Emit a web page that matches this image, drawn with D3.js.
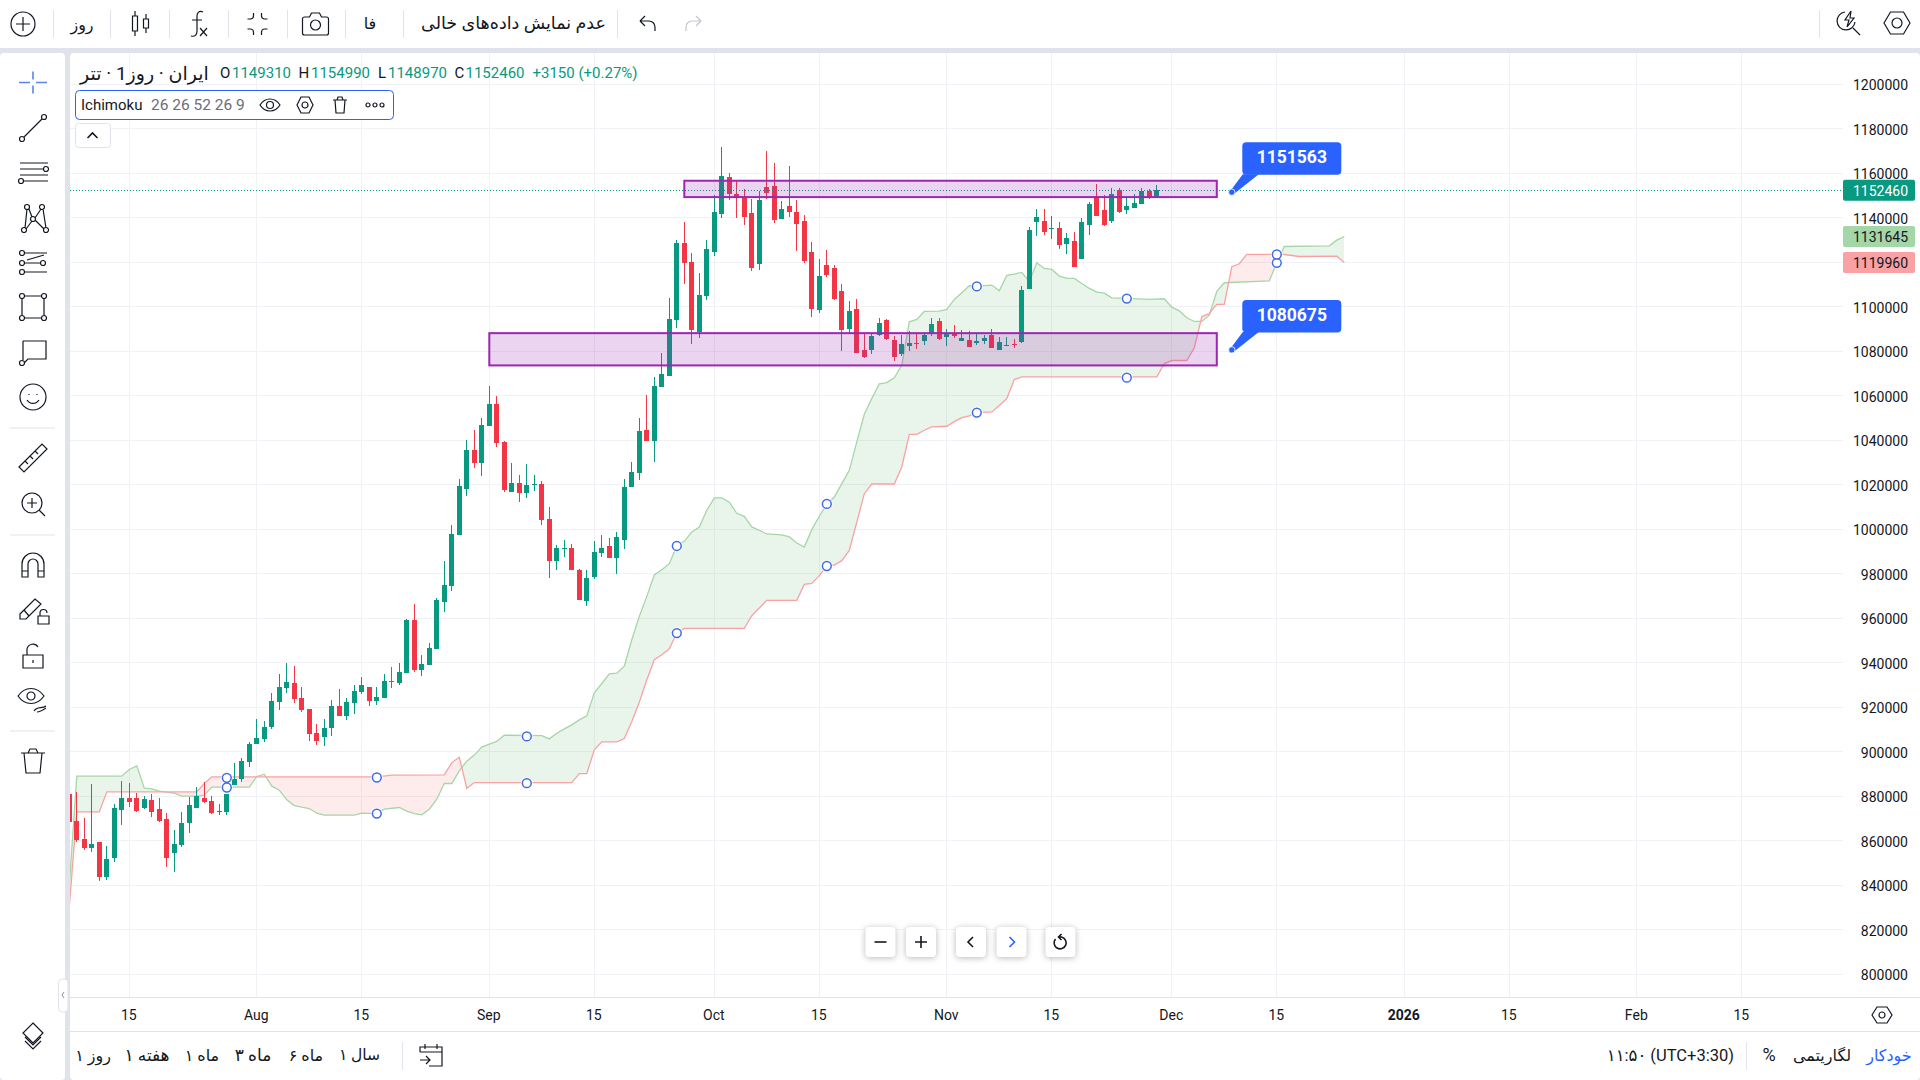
<!DOCTYPE html>
<html>
<head>
<meta charset="utf-8">
<script src="https://cdn.jsdelivr.net/npm/d3@7/dist/d3.min.js"></script>
<style>
  html, body { margin: 0; padding: 0; background: #fff; overflow: hidden; }
  text { font-family: Roboto, "DejaVu Sans", sans-serif; fill: #131722; }
  .btn { filter: drop-shadow(0 1px 3px rgba(0,0,0,.28)); }
</style>
</head>
<body>
<script>
// daily candles, first one is 2025-07-07
let firstCandle = "2025-07-07";
let opens = [
    881000,868850,860750,856700,859400,843650,852200,873800,879200,879200,874700,878300,874250,869750,854450,858050,867950,874700,879200,877850,872900,872900,885050,887750,895400,
    903500,905750,911050,922300,928600,930850,924100,919150,908450,906650,910700,920600,916100,921850,926800,929050,922750,924100,931750,930850,935350,959200,936700,938950,946150,967300,974500,997450,1018150,1035700,1029850,
    1046500,1056400,1039300,1016800,1020850,1016350,1019800,1020400,1004650,985750,991150,991600,981700,967750,978550,989350,992500,987100,995200,1019050,1025350,1044700,1039750,1063850,1068800,1094000,1128650,1120100,1088600,1104800,
    1124600,1141700,1158350,1150700,1148900,1142150,1119200,1153850,1154300,1139450,1145300,1142600,1138550,1124600,1098500,1118750,1117400,1107050,1089950,1098950,1080500,1080500,1087250,1094000,1085000,1078700,1082300,1083650,1084550,1087700,1093550,
    1086350,1088150,1084550,1085000,1083650,1084550,1087250,1080500,1082750,1083200,1084100,1107950,1138100,1138550,1135100,1135400,1128200,1129550,1121450,1136750,1148900,1143500,1138550,1152500,1143500,1144400,1146200,1152050,1149310
];
let highs = [
    881000,881900,870200,885500,859400,857600,876500,886850,885950,881450,880100,881000,879200,872450,864800,872900,879650,884150,886400,880100,876500,881000,894950,897200,904400,
    914750,913850,926350,934900,939850,938500,929050,919150,912500,914750,923200,928150,924100,929950,933550,929050,929050,934900,938050,939950,959650,966400,943450,948850,969100,985750,1001950,1022650,1040200,1044700,1050100,
    1064500,1060000,1039750,1029850,1024450,1029400,1024450,1021750,1010050,992950,995200,993400,982150,981700,994750,997450,996100,998800,1022650,1030300,1050100,1060450,1068550,1079150,1103900,1130000,1138100,1124150,1115150,1130000,
    1150250,1171850,1160150,1157000,1152950,1148450,1152050,1170050,1164650,1147550,1163300,1148000,1141250,1129100,1121450,1125500,1118750,1110200,1102550,1103450,1088150,1087700,1094900,1094450,1086800,1087250,1089050,1088150,1088150,1094900,1094900,
    1089950,1091750,1089500,1089050,1087700,1087250,1089950,1086350,1086350,1085450,1109300,1135850,1143950,1143950,1140800,1138100,1133150,1133600,1139900,1147100,1155200,1150250,1153400,1153400,1148900,1150700,1153400,1152950,1154990
];
let lows = [
    868400,859400,855800,854900,841850,842300,850400,867050,875150,872900,874250,870650,868400,848150,845900,857150,863450,874700,876950,872000,871550,871550,885050,886400,893150,
    903500,904400,910150,918700,926350,921850,917800,904850,903050,902600,907100,916100,914300,916900,925900,920500,920950,924100,928600,929950,935350,935800,934000,938950,946150,962800,972250,997450,1015000,1027600,1024000,
    1046500,1037050,1016800,1016800,1012300,1014100,1017250,1001950,978100,981700,987550,981700,968200,965500,977650,987550,987100,979900,991150,1019050,1022200,1039750,1030300,1063850,1068800,1090400,1110200,1083200,1085900,1103000,
    1122800,1139900,1148000,1139900,1136750,1116050,1116500,1148450,1137650,1139450,1140350,1125050,1119650,1095350,1097150,1113350,1103000,1080050,1087700,1079150,1076900,1078700,1086800,1085000,1075550,1077800,1080050,1080950,1082750,1086800,1085000,
    1082300,1085900,1084550,1081850,1082750,1083200,1081400,1080500,1082750,1081400,1083650,1107950,1131800,1132250,1130450,1125950,1123700,1117850,1121450,1132250,1140800,1136300,1137650,1142150,1141700,1144400,1146200,1148450,1148970
];
let closes = [
    868400,860300,856700,858500,843650,851750,874700,879200,877400,873350,878750,872900,868850,852200,858500,867950,876050,880100,877400,872450,873350,881000,887750,895850,903500,
    906200,911150,922750,929050,931300,923650,918700,907900,904850,910700,920600,916100,922400,927250,929950,922750,924550,931750,931300,935800,959200,936700,939400,946600,968200,974950,997900,1019500,1035700,1029850,1046950,
    1056400,1038850,1017700,1020850,1016350,1019950,1020400,1004200,985750,991600,991600,981700,968200,978100,989800,991600,987100,996550,1019050,1025800,1044250,1039750,1064500,1069700,1094450,1128650,1119650,1089500,1105250,1125950,
    1142600,1158800,1150700,1148900,1140350,1117400,1148000,1151150,1139000,1143950,1142600,1137200,1120550,1098950,1113800,1114250,1103450,1089500,1098050,1079150,1077350,1086800,1092650,1085450,1077350,1083200,1083650,1083350,1087250,1092200,1085450,
    1087700,1086800,1085900,1081850,1084550,1085900,1081400,1084100,1083050,1082900,1107500,1134500,1140350,1133600,1135400,1127750,1130900,1117850,1138100,1146200,1140800,1136750,1150700,1142600,1145300,1146650,1152050,1148900,1152460
];

// ichimoku cloud, turning points of both spans
let spanA = [
    ["07-07",840000],["07-08",889100],["07-14",889100],["07-15",892100],["07-16",893750],["07-17",883700],["07-18",883400],["07-19",882350],["07-20",881900],["07-21",881450],["07-22",880100],["07-24",880100],["07-25",880550],["07-26",884150],["07-31",884150],
    ["08-01",888950],["08-02",890000],["08-03",884600],["08-04",882800],["08-05",878450],["08-06",875900],["08-07",875150],["08-08",874550],["08-09",872450],["08-10",871550],["08-14",871550],["08-15",872450],["08-17",872300],["08-18",874250],["08-20",875000],["08-21",873350],["08-22",872300],["08-23",871700],["08-24",874250],["08-25",878750],["08-26",885800],["08-27",885800],["08-28",891500],["08-29",895850],["08-30",898550],["08-31",902150],
    ["09-01",903500],["09-02",904700],["09-03",907500],["09-08",907350],["09-09",905850],["09-10",908400],["09-11",910350],["09-12",912150],["09-13",914400],["09-14",916200],["09-15",926550],["09-16",930750],["09-17",935100],["09-18",935400],["09-19",938550],["09-20",950400],["09-21",960900],["09-22",969900],["09-23",979500],["09-24",981900],["09-25",984600],["09-26",992550],["09-27",994650],["09-28",998850],["09-29",1001100],["09-30",1008600],
    ["10-01",1014150],["10-02",1014150],["10-03",1012200],["10-04",1007250],["10-05",1005900],["10-06",1001100],["10-07",999600],["10-08",997950],["10-10",997500],["10-11",996600],["10-12",993900],["10-13",992100],["10-14",999900],["10-15",1005900],["10-16",1011450],["10-17",1014550],["10-18",1020550],["10-19",1026550],["10-20",1039300],["10-21",1051750],["10-22",1058800],["10-23",1065400],["10-24",1066000],["10-25",1068100],["10-26",1073800],["10-27",1093300],["10-28",1094350],["10-29",1097950],["10-31",1098100],
    ["11-01",1098850],["11-02",1103350],["11-03",1106350],["11-04",1109500],["11-05",1109350],["11-07",1109800],["11-08",1107250],["11-09",1114150],["11-10",1114750],["11-11",1115500],["11-12",1111300],["11-13",1119850],["11-14",1117300],["11-15",1116850],["11-16",1113850],["11-17",1112800],["11-18",1112800],["11-19",1110550],["11-20",1108300],["11-21",1106650],["11-22",1106200],["11-23",1104100],["11-25",1103800],["11-28",1103350],["11-30",1103650],
    ["12-01",1099900],["12-02",1098250],["12-03",1095100],["12-04",1093450],["12-05",1093450],["12-06",1096300],["12-07",1106950],["12-08",1110850],["12-14",1111700],["12-15",1119800],["12-16",1127150],["12-22",1127450],["12-23",1130000],["12-24",1131645]
];
let spanB = [
    ["07-07",830300],["07-08",873050],["07-11",873050],["07-12",882050],["07-24",882050],["07-25",885800],["07-26",888800],
    ["08-17",888800],["08-19",889550],["08-26",889650],["08-27",895200],["08-28",897600],["08-29",883650],["08-30",886200],
    ["09-12",886200],["09-13",890250],["09-14",890250],["09-15",900900],["09-16",904500],["09-18",904500],["09-19",906000],["09-20",913650],["09-21",922350],["09-22",932400],["09-23",941400],["09-24",943650],["09-25",946350],["09-26",953400],["09-27",955500],
    ["10-05",955500],["10-06",961200],["10-07",964650],["10-08",968100],["10-12",968100],["10-13",975300],["10-14",975750],["10-15",979200],["10-16",983550],["10-17",984000],["10-18",985950],["10-19",990550],["10-20",1003300],["10-21",1016050],["10-22",1020400],["10-25",1020400],["10-26",1028050],["10-27",1042750],["10-28",1042750],["10-29",1044550],["10-30",1046050],
    ["11-01",1046350],["11-02",1048450],["11-03",1050250],["11-04",1051000],["11-05",1052500],["11-07",1052800],["11-08",1055650],["11-09",1058800],["11-10",1067350],["11-11",1068550],["11-29",1068550],["11-30",1074550],
    ["12-01",1075900],["12-03",1075900],["12-04",1081600],["12-05",1095550],["12-06",1097050],["12-07",1101100],["12-08",1101100],["12-09",1118050],["12-10",1119400],["12-11",1123600],["12-16",1123550],["12-18",1122650],["12-23",1122800],["12-24",1119960]
];
let handleDates = ["07-28","08-17","09-06","09-26","10-16","11-05","11-25","12-15"];
let handleA = [884000,872300,906950,992550,1011450,1109200,1103750,1119800];
let handleB = [888350,888500,885950,953400,983550,1052500,1068200,1123550];

let zones = [["09-27","12-07",1156700,1149350],["09-01","12-07",1088200,1073700]];
let callouts = [["12-09",1151563],["12-09",1080675]];
let lastClose = 1152460, lastA = 1131645, lastB = 1119960;

let priceTicks = [800000,820000,840000,860000,880000,900000,920000,940000,960000,980000,1000000,1020000,1040000,1060000,1080000,1100000,1120000,1140000,1160000,1180000,1200000];
let timeTicks = ["2025-07-15","2025-08-01","2025-08-15","2025-09-01","2025-09-15","2025-10-01","2025-10-15","2025-11-01","2025-11-15","2025-12-01","2025-12-15","2026-01-01","2026-01-15","2026-02-01","2026-02-15"];
let timeLabels = ["15","Aug","15","Sep","15","Oct","15","Nov","15","Dec","15","2026","15","Feb","15"];

let green = "#089981", red = "#f23645", blue = "#2962ff", band = "#e0e3eb", ink = "#131722";
let parse = d3.utcParse("%Y-%m-%d");
let day = s => parse("2025-" + s);

let svg = d3.select("body").append("svg").attr("width", 1920).attr("height", 1080).style("display", "block");

let x = d3.scaleUtc().domain([parse("2025-07-15"), parse("2025-12-01")]).range([129.3, 1171.8]);
let y = d3.scaleLinear().domain([800000, 1200000]).range([974.4, 84.4]);
let snap = v => Math.floor(v) + 0.5;

let candles = opens.map((o, i) => ({
    date: d3.utcDay.offset(parse(firstCandle), i), o: o, h: highs[i], l: lows[i], c: closes[i]
}));

// page frame
svg.append("rect").attr("width", 1920).attr("height", 1080).attr("fill", band);
svg.append("rect").attr("width", 1920).attr("height", 48).attr("fill", "#fff");
svg.append("rect").attr("x", 0).attr("y", 53).attr("width", 65).attr("height", 1027).attr("rx", 4).attr("fill", "#fff");
svg.append("rect").attr("x", 70).attr("y", 53).attr("width", 1850).attr("height", 1027).attr("rx", 4).attr("fill", "#fff");

let defs = svg.append("defs");
defs.append("clipPath").attr("id", "plot").append("rect").attr("x", 70).attr("y", 53).attr("width", 1773).attr("height", 944);

let plot = svg.append("g").attr("clip-path", "url(#plot)");

// grid
plot.selectAll(".hgrid").data(priceTicks).join("line")
    .attr("x1", 70).attr("x2", 1843)
    .attr("y1", d => snap(y(d))).attr("y2", d => snap(y(d)))
    .attr("stroke", "#f1f2f5").attr("stroke-width", 1);
plot.selectAll(".vgrid").data(timeTicks).join("line")
    .attr("y1", 53).attr("y2", 997)
    .attr("x1", d => snap(x(parse(d)))).attr("x2", d => snap(x(parse(d))))
    .attr("stroke", "#f1f2f5").attr("stroke-width", 1);

// cloud
let ptsA = spanA.map(d => [x(day(d[0])), y(d[1])]);
let ptsB = spanB.map(d => [x(day(d[0])), y(d[1])]);
let lineGen = d3.line();
let between = lineGen(ptsA.concat(ptsB.slice().reverse())) + "Z";
let x0 = ptsB[0][0], x1 = ptsB[ptsB.length - 1][0];
defs.append("clipPath").attr("id", "aboveB").append("path").attr("d", lineGen(ptsB.concat([[x1, 0], [x0, 0]])) + "Z");
defs.append("clipPath").attr("id", "belowB").append("path").attr("d", lineGen(ptsB.concat([[x1, 1080], [x0, 1080]])) + "Z");
plot.append("path").attr("d", between).attr("fill", "rgba(76,175,80,0.12)").attr("clip-path", "url(#aboveB)");
plot.append("path").attr("d", between).attr("fill", "rgba(242,54,69,0.1)").attr("clip-path", "url(#belowB)");
plot.append("path").attr("d", lineGen(ptsA)).attr("fill", "none").attr("stroke", "#a5d6a7").attr("stroke-width", 1.3);
plot.append("path").attr("d", lineGen(ptsB)).attr("fill", "none").attr("stroke", "#faa1a4").attr("stroke-width", 1.3);

// candles
let candle = plot.selectAll(".candle").data(candles).join("g").attr("class", "candle")
    .attr("fill", d => d.c >= d.o ? green : red).attr("shape-rendering", "crispEdges");
candle.append("rect")
    .attr("x", d => Math.floor(x(d.date))).attr("width", 1)
    .attr("y", d => y(d.h)).attr("height", d => y(d.l) - y(d.h));
candle.append("rect")
    .attr("x", d => Math.floor(x(d.date)) - 2).attr("width", 5)
    .attr("y", d => y(Math.max(d.o, d.c)))
    .attr("height", d => Math.max(1, Math.abs(y(d.o) - y(d.c))));

// last price line
plot.append("line").attr("x1", 70).attr("x2", 1843)
    .attr("y1", snap(y(lastClose))).attr("y2", snap(y(lastClose)))
    .attr("stroke", green).attr("stroke-dasharray", "1,2").attr("shape-rendering", "crispEdges");

// zones
plot.selectAll(".zone").data(zones).join("rect")
    .attr("x", d => x(day(d[0]))).attr("width", d => x(day(d[1])) - x(day(d[0])))
    .attr("y", d => y(d[2])).attr("height", d => y(d[3]) - y(d[2]))
    .attr("fill", "rgba(156,39,176,0.2)").attr("stroke", "#9c27b0").attr("stroke-width", 2);

// cloud handles
let handles = handleDates.flatMap((d, i) => [[d, handleA[i]], [d, handleB[i]]]);
plot.selectAll(".halo").data(handles).join("circle")
    .attr("cx", d => x(day(d[0]))).attr("cy", d => y(d[1])).attr("r", 6).attr("fill", "#fff").attr("opacity", 0.85);
plot.selectAll(".handle").data(handles).join("circle")
    .attr("cx", d => x(day(d[0]))).attr("cy", d => y(d[1])).attr("r", 4.4)
    .attr("fill", "#fff").attr("stroke", "#3f6be6").attr("stroke-width", 1.5);

// callouts
callouts.forEach(c => {
    let ax = x(day(c[0])), ay = y(c[1]);
    let g = plot.append("g").attr("transform", `translate(${ax},${ay})`);
    g.append("path").attr("d", "M-1,-2L11,-18L27,-18L3,1Z").attr("fill", blue);
    g.append("rect").attr("x", 10.5).attr("y", -50).attr("width", 99).attr("height", 32.5).attr("rx", 4).attr("fill", blue);
    g.append("circle").attr("r", 3.2).attr("fill", blue).attr("stroke", "#fff").attr("stroke-width", 0.8);
    g.append("text").attr("x", 60).attr("y", -35).attr("dy", "0.35em").attr("text-anchor", "middle")
        .attr("font-size", 17.5).attr("font-weight", 700).style("fill", "#fff").text(c[1]);
});

// axes
let priceAxis = svg.append("g").attr("transform", "translate(1908,1)")
    .call(d3.axisRight(y).tickValues(priceTicks).tickSize(0).tickPadding(0).tickFormat(d3.format("d")));
priceAxis.select(".domain").remove();
priceAxis.selectAll("text").attr("text-anchor", "end").attr("x", 0).attr("font-size", 14).attr("font-family", null);

let timeAxis = svg.append("g").attr("transform", "translate(-1,1015)")
    .call(d3.axisBottom(x).tickValues(timeTicks.map(parse)).tickSize(0).tickFormat((d, i) => timeLabels[i]));
timeAxis.select(".domain").remove();
timeAxis.selectAll("text").attr("y", 0).attr("dy", "0.35em").attr("font-size", 14).attr("font-family", null)
    .attr("font-weight", (d, i) => timeLabels[i] === "2026" ? 700 : 400);

svg.append("rect").attr("x", 70).attr("y", 997).attr("width", 1850).attr("height", 1).attr("fill", band);
svg.append("rect").attr("x", 70).attr("y", 1031).attr("width", 1850).attr("height", 1).attr("fill", band);

// price tags
let tags = [[lastClose, green, "#fff"], [lastA, "#a5d6a7", ink], [lastB, "#faa1a4", ink]];
tags.forEach(t => {
    svg.append("rect").attr("x", 1843).attr("y", y(t[0]) - 10.5).attr("width", 72).attr("height", 21).attr("rx", 2).attr("fill", t[1]);
    svg.append("text").attr("x", 1908).attr("y", y(t[0]) + 0.5).attr("dy", "0.35em").attr("text-anchor", "end")
        .attr("font-size", 14).style("fill", t[2]).text(t[0]);
});

// icons
function ring(cx, cy, r) {
    return `M${cx - r},${cy}a${r},${r} 0 1,0 ${2 * r},0a${r},${r} 0 1,0 ${-2 * r},0`;
}
function icon(px, py, d, color = ink, sw = 1.2) {
    svg.append("path").attr("transform", `translate(${px},${py})`).attr("d", d)
        .attr("fill", "none").attr("stroke", color).attr("stroke-width", sw);
}
function label(px, py, s, size = 15, anchor = "start", color = ink) {
    svg.append("text").attr("x", px).attr("y", py).attr("dy", "0.35em").attr("text-anchor", anchor)
        .attr("font-size", size).style("fill", color).text(s);
}
function sep(x1, y1, x2, y2) {
    svg.append("line").attr("x1", x1).attr("y1", y1).attr("x2", x2).attr("y2", y2).attr("stroke", band);
}

// top toolbar
[53.5, 110.5, 169.5, 228.5, 287.5, 345.5, 403.5, 617.5, 1819.5].forEach(d => sep(d, 10, d, 38));
icon(23, 24, ring(0, 0, 12) + "M-7,0H7M0,-7V7");
label(82, 24, "روز", 16, "middle");
icon(140.5, 23, "M-8,-7h5v15h-5zM-5.5,-12v5M-5.5,8v5M3,-4h5v9h-5zM5.5,-9v5M5.5,5v5");
icon(198, 24, "M5,-12c-4,-2 -6,1 -6,4v15c0,4 -2,6 -6,5M-6,-4H4M2,4l7,8M9,4l-7,8");
icon(257.5, 24, "M-4,-11v3a3,3 0 0 1 -3,3h-3M4,-11v3a3,3 0 0 0 3,3h3M-4,11v-3a3,3 0 0 0 -3,-3h-3M4,11v-3a3,3 0 0 1 3,-3h3");
icon(315.5, 24, ring(0, 1, 5) + "M-11,-7h5l2,-4h8l2,4h5a2,2 0 0 1 2,2v14a2,2 0 0 1 -2,2h-22a2,2 0 0 1 -2,-2v-14a2,2 0 0 1 2,-2z");
label(370, 23, "فا", 16, "middle");
label(606, 23, "عدم نمایش داده‌های خالی", 17.5, "end");
icon(647, 24, "M-7,-3h9a6,6 0 0 1 6,6v4M-7,-3l5,-5M-7,-3l5,5");
icon(694, 24, "M7,-3h-9a6,6 0 0 0 -6,6v4M7,-3l-5,-5M7,-3l-5,5", "#c3c6ce");
icon(1848, 23, "M-3,-11a9,9 0 1,0 10,10M5,5l7,7M3,-12l-6,9h4l-2,7l7,-9h-4z");
icon(1897, 23, "M-13,0L-6.5,-11H6.5L13,0L6.5,11H-6.5Z" + ring(0, 0, 5));

// left toolbar
icon(33, 82.5, "M-14,0H-3M3,0H14M0,-11V-3M0,3V11", "#5b83f0", 1.6);
icon(33, 128, ring(-11, 11, 2.5) + "M-9,9L9,-9" + ring(11, -11, 2.5));
icon(33, 172, "M-13,-9H15M-13,-3H10" + ring(13, -3, 2.5) + "M-13,3H15M-9,9H15" + ring(-12, 9, 2.5));
icon(33, 217, ring(-9, 13, 2.5) + ring(-6, -10, 2.5) + ring(0, 2, 2.5) + ring(9, -10, 2.5) + ring(13, 13, 2.5) + "M-8,11L-6,-8M-4,-8L-1,0M2,1L8,-8M10,-8L13,11M-7,12L-1,4M2,3L11,12");
icon(33, 263, ring(-11, -10, 2.5) + "M-8,-10H14" + ring(-11, 0, 2.5) + "M-8,0H7" + ring(10, 0, 2.5) + ring(-11, 9, 2.5) + "M-8,9H14M-6,-3L11,-8");
icon(33, 307, ring(-11, -11, 2.5) + ring(11, -11, 2.5) + ring(-11, 11, 2.5) + ring(11, 11, 2.5) + "M-8.5,-11H8.5M-8.5,11H8.5M-11,-8.5V8.5M11,-8.5V8.5");
icon(33, 353, "M-10,-12H13V6H-5L-9,10M-10,-12V7" + ring(-11, 10, 2.5));
icon(33, 397, ring(0, 0, 13) + "M-6,3a7,7 0 0 0 12,0M-4,-3v1M4,-3v1");
sep(10, 428, 55, 428);
icon(33, 458, "M-14,9L9,-14L14,-9L-9,14ZM-8,3l3,3M-3,-2l3,3M2,-7l3,3");
icon(32, 503, ring(0, 0, 10) + "M-5,0H5M0,-5V5M7,7L13,13");
sep(10, 535, 55, 535);
icon(33, 565, "M-11,12V-1a11,11 0 0 1 22,0V12H5V-1a5,5 0 0 0 -10,0V12ZM-11,6H-5M5,6H11");
icon(31, 608, "M-11,6L4,-9L10,-4L-5,11H-11ZM-7,2L-2,8M7,8h11v8h-11zM9,8v-3a3,3 0 0 1 7,0");
icon(33, 656, "M-10,-1H10V12H-10ZM-6,-1V-7a6,6 0 0 1 11,-2M0,4V7");
icon(31, 698, ring(0, -2, 4) + "M-13,-2C-6,-12 6,-12 13,-2C6,8 -6,8 -13,-2ZM3,13c3,-5 8,-2 12,-5M6,14c3,0 6,-2 9,-4");
sep(10, 731, 55, 731);
icon(33, 761, "M-12,-8H12M-5,-8l2,-4h6l2,4M-9,-8L-7,12H7L9,-8");
icon(33, 1034, "M0,-11L10,-1L0,9L-10,-1ZM-8,3L0,11L8,3M-8,7L0,15L8,7");

// bottom bar
svg.append("rect").attr("x", 58.5).attr("y", 979).attr("width", 9.5).attr("height", 33).attr("rx", 4)
    .attr("fill", "#fff").attr("stroke", band);
icon(63, 995, "M1,-3L-1,0L1,3", "#8a8f9c", 1);
label(93, 1055, "روز ۱", 16, "middle");
label(147, 1055, "هفته ۱", 17, "middle");
label(202, 1055, "ماه ۱", 16, "middle");
label(253, 1055, "ماه ۳", 17, "middle");
label(306, 1055, "ماه ۶", 16, "middle");
label(359.5, 1055, "سال ۱", 15.5, "middle");
sep(402.5, 1042, 402.5, 1070);
icon(431, 1055, "M-11,-3V-8H11V11H1M-11,-3H11M-6,-11V-6M6,-11V-6M-11,5H-1M-5,1L-1,5L-5,9M-2,11H1");
icon(1882, 1015, "M-10,0L-5,-8H5L10,0L5,8H-5Z" + ring(0, 0, 3));
label(1734, 1055, "۱۱:۵۰ (UTC+3:30)", 16.5, "end");
sep(1746.5, 1042, 1746.5, 1070);
label(1769, 1055, "%", 18, "middle");
label(1822, 1055, "لگاریتمی", 16, "middle");
label(1889, 1055, "خودکار", 16, "middle", blue);

// legend
label(80, 73, "ایران · روز1 · تتر", 19);
[["O", 220, "1149310", 232], ["H", 298.5, "1154990", 311], ["L", 378, "1148970", 388], ["C", 454.5, "1152460", 465.5]].forEach(d => {
    label(d[1], 73, d[0], 15);
    label(d[3], 73, d[2], 15, "start", green);
});
label(532.5, 73, "+3150 (+0.27%)", 15, "start", green);

svg.append("rect").attr("x", 75.5).attr("y", 90.5).attr("width", 318).attr("height", 29).attr("rx", 4)
    .attr("fill", "#fff").attr("stroke", blue);
label(81, 105, "Ichimoku", 15);
label(151, 105, "26 26 52 26 9", 15.5, "start", "#6a6d78");
icon(270, 105, ring(0, 0, 3.5) + "M-10,0C-5,-8 5,-8 10,0C5,8 -5,8 -10,0Z");
icon(305, 105, "M-8,0L-4,-8H4L8,0L4,8H-4Z" + ring(0, 0, 3));
icon(340, 105, "M-7,-5H7M-3,-5l1,-3h4l1,3M-5,-5L-4,8H4L5,-5");
icon(375, 105, ring(-7, 0, 2) + ring(0, 0, 2) + ring(7, 0, 2));
svg.append("rect").attr("x", 75.5).attr("y", 123.5).attr("width", 35).attr("height", 24).attr("rx", 3)
    .attr("fill", "#fff").attr("stroke", band);
icon(92.5, 136, "M-5,2L0,-3L5,2", ink, 1.6);

// zoom buttons
[[880.5, "M-6,0H6", ink], [921, "M-6,0H6M0,-6V6", ink], [971, "M2,-5L-3,0L2,5", ink], [1011.5, "M-2,-5L3,0L-2,5", blue], [1060.5, "M-5,-3a6,6 0 1,0 6,-2h-3M1,-8l-3,3l3,3", ink]].forEach(b => {
    svg.append("rect").attr("class", "btn").attr("x", b[0] - 15).attr("y", 927).attr("width", 30).attr("height", 30).attr("rx", 4).attr("fill", "#fff");
    icon(b[0], 942, b[1], b[2], 1.6);
});
</script>
</body>
</html>
